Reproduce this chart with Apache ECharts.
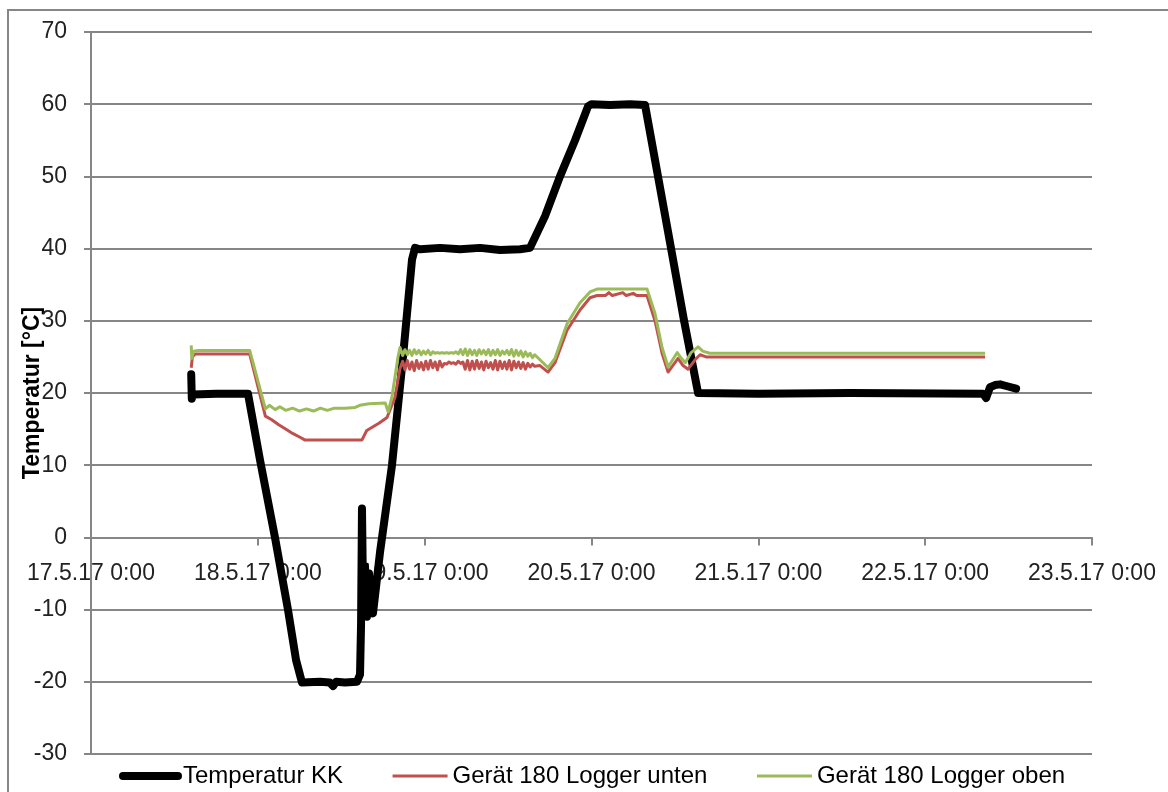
<!DOCTYPE html>
<html>
<head>
<meta charset="utf-8">
<script src="https://cdn.jsdelivr.net/npm/echarts@6/dist/echarts.min.js"></script>
<style>
  html, body { margin: 0; padding: 0; background: #fff; }
  #main { width: 1168px; height: 792px; }
</style>
</head>
<body>
<div id="main"></div>
<script>
// Zeitpunkte als 'Tag(Mai) HH:MM', Werte in °C
var dayTicks = ['17.5.17 0:00', '18.5.17 0:00', '19.5.17 0:00', '20.5.17 0:00', '21.5.17 0:00', '22.5.17 0:00', '23.5.17 0:00'];
var seriesNames = ['Temperatur KK', 'Gerät 180 Logger unten', 'Gerät 180 Logger oben'];

var tempKK = [
	['17 14:25', 22.6], ['17 14:30', 19.2], ['17 14:40', 19.8], ['17 18:00', 19.9], ['17 22:35', 19.9],
	['18 00:19', 10.7], ['18 02:28', 0], ['18 04:20', -10], ['18 05:30', -17], ['18 06:21', -20.1],
	['18 08:57', -20.0], ['18 10:20', -20.1], ['18 10:49', -20.6], ['18 11:15', -20.0], ['18 12:33', -20.1], ['18 14:16', -20.0],
	['18 14:42', -19], ['18 14:51', -12], ['18 14:59', 4.0], ['18 15:08', -8], ['18 15:25', -4], ['18 15:42', -11],
	['18 16:00', -5], ['18 16:17', -10], ['18 16:34', -10.5],
	['18 17:35', -2], ['18 19:18', 10], ['18 20:53', 25], ['18 22:11', 38.5], ['18 22:37', 40.1],
	['18 23:20', 39.9], ['19 02:13', 40.1], ['19 05:05', 39.9], ['19 07:58', 40.1], ['19 10:50', 39.8], ['19 13:43', 39.9], ['19 15:09', 40.1],
	['19 17:19', 44.5], ['19 19:28', 50], ['19 21:38', 55], ['19 23:30', 59.7], ['20 00:00', 60],
	['20 02:40', 59.9], ['20 05:33', 60.0], ['20 07:42', 59.9],
	['20 09:34', 50], ['20 11:27', 40], ['20 13:19', 30], ['20 15:20', 20],
	['21 00:00', 19.9], ['21 13:12', 20.0], ['22 08:20', 19.9],
	['22 08:46', 19.3], ['22 09:20', 20.8], ['22 10:03', 21.1], ['22 10:47', 21.2], ['22 11:56', 20.9], ['22 13:05', 20.6]
];

// Logger-Rauschen 18.5 20:50 - 19.5 15:50
var noiseTimes = [
	'18 20:50', '18 21:10', '18 21:30', '18 21:50', '18 22:10', '18 22:30', '18 22:50', '18 23:10', '18 23:30', '18 23:50',
	'19 00:10', '19 00:30', '19 00:50', '19 01:10', '19 01:30', '19 01:50', '19 02:10', '19 02:30', '19 02:50', '19 03:10',
	'19 03:30', '19 03:50', '19 04:10', '19 04:30', '19 04:50', '19 05:10', '19 05:30', '19 05:50', '19 06:10', '19 06:30',
	'19 06:50', '19 07:10', '19 07:30', '19 07:50', '19 08:10', '19 08:30', '19 08:50', '19 09:10', '19 09:30', '19 09:50',
	'19 10:10', '19 10:30', '19 10:50', '19 11:10', '19 11:30', '19 11:50', '19 12:10', '19 12:30', '19 12:50', '19 13:10',
	'19 13:30', '19 13:50', '19 14:10', '19 14:30', '19 14:50', '19 15:10', '19 15:30', '19 15:50'
];
var untenNoise = [
	24.4, 23.2, 24.5, 23.3, 24.3, 23.1, 24.5, 23.4, 24.2, 23.2,
	24.4, 23.3, 24.5, 23.5, 24.3, 23.2, 24.4, 23.6, 24.1, 24.0,
	24.3, 24.1, 24.2, 24.0, 24.4, 24.1, 24.3, 23.3, 24.5, 23.2,
	24.4, 23.3, 24.5, 23.4, 24.3, 23.2, 24.4, 23.5, 24.2, 23.3,
	24.5, 23.2, 24.4, 23.4, 24.3, 23.3, 24.5, 23.2, 24.4, 23.5,
	24.3, 23.4, 24.2, 23.3, 24.1, 23.6, 24.0, 23.7
];
var obenNoise = [
	25.2, 26.0, 25.3, 25.9, 25.2, 26.0, 25.4, 25.9, 25.3, 25.8,
	25.4, 25.9, 25.3, 25.7, 25.5, 25.6, 25.5, 25.6, 25.5, 25.6,
	25.5, 25.6, 25.5, 25.7, 25.4, 26.0, 25.3, 26.1, 25.2, 26.0,
	25.3, 25.9, 25.2, 26.0, 25.4, 25.9, 25.3, 26.0, 25.2, 25.9,
	25.3, 26.0, 25.2, 25.8, 25.4, 25.9, 25.3, 26.0, 25.1, 25.9,
	25.2, 25.8, 25.0, 25.7, 25.1, 25.5, 24.9, 25.3
];

var untenStart = [
	['17 14:25', 23.5], ['17 14:35', 25.0], ['17 15:00', 25.4], ['17 22:50', 25.4],
	['18 01:05', 16.8], ['18 02:00', 16.3], ['18 03:00', 15.6], ['18 04:00', 15.0], ['18 05:00', 14.4], ['18 06:00', 13.9], ['18 06:45', 13.5],
	['18 14:59', 13.5], ['18 15:40', 14.8], ['18 17:25', 15.8], ['18 18:35', 16.6], ['18 19:44', 19.4], ['18 20:27', 23.4]
];
var untenEnd = [
	['19 16:35', 23.8], ['19 17:45', 22.9], ['19 18:45', 24.2], ['19 20:29', 28.7], ['19 22:21', 31.5], ['19 23:47', 33.2], ['20 00:48', 33.5],
	['20 02:00', 33.5], ['20 02:30', 33.9], ['20 03:00', 33.5], ['20 04:30', 33.9], ['20 05:00', 33.5], ['20 06:00', 33.8], ['20 06:30', 33.5], ['20 07:59', 33.5],
	['20 09:08', 30], ['20 10:09', 25.5], ['20 11:01', 22.9], ['20 12:27', 24.8], ['20 13:10', 23.8], ['20 13:53', 23.3],
	['20 14:54', 24.6], ['20 15:37', 25.3], ['20 16:30', 25.0],
	['22 08:37', 25.0]
];

var obenStart = [
	['17 14:25', 26.6], ['17 14:30', 24.8], ['17 14:45', 25.8], ['17 15:30', 25.9], ['17 22:50', 25.9],
	['18 01:05', 17.8], ['18 01:40', 18.3], ['18 02:30', 17.7], ['18 03:10', 18.1], ['18 04:00', 17.6], ['18 05:00', 17.9],
	['18 06:00', 17.5], ['18 07:00', 17.8], ['18 08:00', 17.5], ['18 09:00', 17.9], ['18 10:00', 17.6], ['18 11:00', 17.9],
	['18 12:30', 17.9], ['18 14:00', 18.0], ['18 14:40', 18.3], ['18 16:00', 18.5], ['18 18:20', 18.6], ['18 18:45', 17.4],
	['18 19:18', 19.5], ['18 20:10', 25.0], ['18 20:27', 26.3]
];
var obenEnd = [
	['19 16:35', 24.6], ['19 17:45', 23.5], ['19 18:45', 24.8], ['19 20:29', 29.6], ['19 22:21', 32.5], ['19 23:47', 34.0],
	['20 00:48', 34.4], ['20 07:59', 34.4],
	['20 09:08', 31.0], ['20 10:09', 26.3], ['20 11:01', 23.6], ['20 12:20', 25.6], ['20 12:50', 24.9], ['20 13:30', 24.2],
	['20 14:20', 25.6], ['20 15:20', 26.4], ['20 16:00', 25.8], ['20 17:00', 25.5],
	['22 08:37', 25.5]
];

/**
 * 'Tag HH:MM' -> Tage seit 17.5.17 0:00
 */
function toDays(s) {
	var p = s.split(/[ :]/);
	return (parseInt(p[0], 10) - 17) + parseInt(p[1], 10) / 24 + parseInt(p[2], 10) / 1440;
}

function toSeries(arr) {
	var out = [];
	for (var i = 0; i < arr.length; i++) {
		out.push([toDays(arr[i][0]), arr[i][1]]);
	}
	return out;
}

function withNoise(start, values, end) {
	var mid = [];
	for (var i = 0; i < noiseTimes.length; i++) {
		mid.push([noiseTimes[i], values[i]]);
	}
	return toSeries(start.concat(mid, end));
}

var font = "'Liberation Sans', Arial, sans-serif";
var gridColor = '#868686';

var gridTop = 32, gridBottom = 38, chartH = 792;
var yMin = -30, yMax = 70;
// X-Achse liegt bei 0 °C: Abstand von der Unterkante der Zeichenfläche
var plotH = chartH - gridTop - gridBottom;
var zeroOffset = -plotH * (0 - yMin) / (yMax - yMin);

var myChart = echarts.init(document.getElementById('main'), null, { renderer: 'canvas' });

var option = {
	animation: false,
	backgroundColor: '#fff',
	graphic: [{
		type: 'rect',
		shape: { x: 8, y: 10, width: 1200, height: 820 },
		style: { fill: 'none', stroke: gridColor, lineWidth: 2 },
		silent: true
	}],
	grid: {
		left: 91,
		right: 76,
		top: gridTop,
		bottom: gridBottom,
		outerBoundsMode: 'none'
	},
	legend: {
		left: 114,
		top: 759,
		itemWidth: 55,
		itemHeight: 14,
		itemGap: 48,
		textStyle: { fontFamily: font, fontSize: 24, color: '#000' },
		itemStyle: { opacity: 0 },
		data: [
			{ name: seriesNames[0], lineStyle: { width: 8, cap: 'round' }, itemStyle: { opacity: 0 } },
			{ name: seriesNames[1], lineStyle: { width: 3 }, itemStyle: { opacity: 0 } },
			{ name: seriesNames[2], lineStyle: { width: 3 }, itemStyle: { opacity: 0 } }
		]
	},
	xAxis: {
		type: 'value',
		min: 0,
		max: 6,
		interval: 1,
		position: 'bottom',
		offset: zeroOffset,
		axisLine: { onZero: false, lineStyle: { color: gridColor, width: 2 } },
		axisTick: { show: true, length: 8, lineStyle: { color: gridColor, width: 2 } },
		axisLabel: {
			margin: 25,
			fontFamily: font,
			fontSize: 23,
			color: '#222',
			formatter: function (v) { return dayTicks[Math.round(v)]; }
		},
		splitLine: { show: false }
	},
	yAxis: {
		type: 'value',
		min: yMin,
		max: yMax,
		interval: 10,
		name: 'Temperatur [°C]',
		nameLocation: 'middle',
		nameGap: 47,
		nameMoveOverlap: false,
		nameTextStyle: { fontFamily: font, fontSize: 23, fontWeight: 'bold', color: '#000' },
		axisLine: { show: true, onZero: false, lineStyle: { color: gridColor, width: 2 } },
		axisTick: { show: true, length: 7, lineStyle: { color: gridColor, width: 2 } },
		axisLabel: { margin: 24, fontFamily: font, fontSize: 23, color: '#222' },
		splitLine: { show: true, lineStyle: { color: gridColor, width: 2 } }
	},
	series: [{
		name: seriesNames[0],
		type: 'line',
		symbol: 'none',
		color: '#000000',
		lineStyle: { width: 8, cap: 'round', join: 'round' },
		data: toSeries(tempKK)
	}, {
		name: seriesNames[1],
		type: 'line',
		symbol: 'none',
		color: '#c0504d',
		lineStyle: { width: 3, join: 'round' },
		data: withNoise(untenStart, untenNoise, untenEnd)
	}, {
		name: seriesNames[2],
		type: 'line',
		symbol: 'none',
		color: '#9bbb59',
		lineStyle: { width: 3, join: 'round' },
		data: withNoise(obenStart, obenNoise, obenEnd)
	}]
};

myChart.setOption(option);
</script>
</body>
</html>
